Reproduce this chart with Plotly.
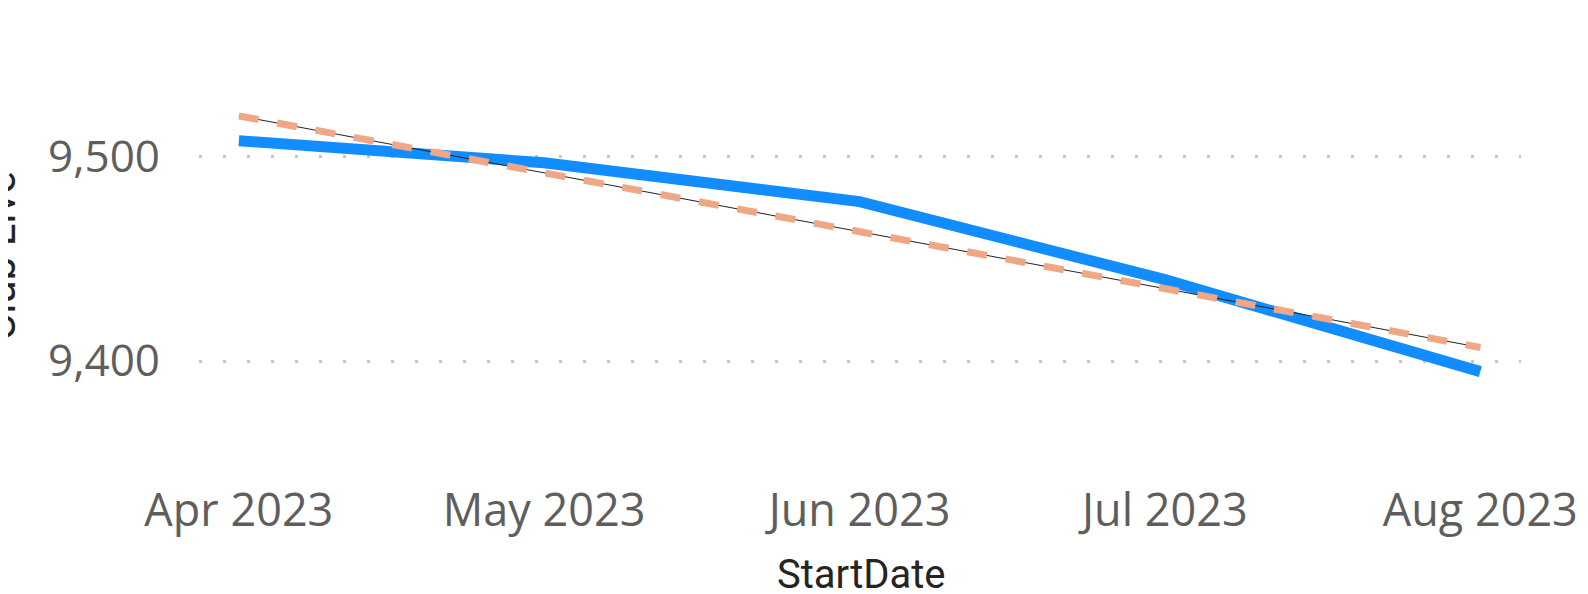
import numpy as np
import pandas as pd
import plotly.graph_objects as go

# Data
months = ["2023-04-01", "2023-05-01", "2023-06-01", "2023-07-01", "2023-08-01"]
club_live = [9507.8, 9497.0, 9478.0, 9439.8, 9394.8]
y_ticks = [9400, 9500]
x_title = "StartDate"
y_title = "Club Live"

dates = pd.to_datetime(months)
days = (dates - dates[0]).days.values.astype(float)
slope, intercept = np.polyfit(days, club_live, 1)
trend = intercept + slope * days

# page body has an 8px default margin; size figure so it fills the window
OFF = 8
W, H = 1588 - OFF, 594 - OFF
ml, mr, mt, mb = 199 - OFF, 67, 40 - OFF, 129
PW, PH = W - ml - mr, H - mt - mb

fig = go.Figure()
fig.add_trace(go.Scatter(x=dates, y=club_live, mode="lines",
                         line=dict(color="#118DFF", width=11),
                         hoverinfo="skip", showlegend=False))
fig.add_trace(go.Scatter(x=dates, y=trend, mode="lines",
                         line=dict(color="#222222", width=1),
                         hoverinfo="skip", showlegend=False))
fig.add_trace(go.Scatter(x=dates, y=trend, mode="lines",
                         line=dict(color="#EFA786", width=7, dash="20px,19px"),
                         hoverinfo="skip", showlegend=False))

fig.update_layout(
    width=W, height=H,
    margin=dict(l=ml, r=mr, t=mt, b=mb, pad=0),
    paper_bgcolor="white", plot_bgcolor="white",
    showlegend=False,
    font=dict(family="Segoe UI, Open Sans, sans-serif", color="#605E5C"),
)
fig.update_xaxes(
    type="date",
    range=["2023-03-28 02:00", "2023-08-05 00:00"],
    tickvals=dates, tickformat="%b %Y",
    showgrid=False, zeroline=False, showline=False, ticks="",
    tickfont=dict(size=45, color="#605E5C", family="Segoe UI, Open Sans, sans-serif"),
    ticklabelstandoff=15,
    automargin=False,
)
fig.update_yaxes(
    range=[9349.1, 9557.1],
    tickvals=y_ticks, tickformat=",",
    showgrid=True, gridcolor="#C8C6C4", gridwidth=3, griddash="3px,21px",
    zeroline=False, showline=False, ticks="",
    tickfont=dict(size=44, color="#605E5C", family="Segoe UI, Open Sans, sans-serif"),
    ticklabelstandoff=38,
    automargin=False,
)
fig.add_annotation(
    text=x_title, showarrow=False,
    xref="paper", yref="paper",
    x=(861 - OFF - ml) / PW, y=1 - (574 - OFF - mt) / PH,
    xanchor="center", yanchor="middle",
    font=dict(size=40, color="#252423", family="DIN, Roboto, sans-serif"),
)
fig.add_annotation(
    text=y_title, textangle=-90, showarrow=False,
    xref="paper", yref="paper",
    x=(-7 - ml) / PW, y=1 - (256 - OFF - mt) / PH,
    xanchor="center", yanchor="middle",
    font=dict(size=42, color="#252423", family="DIN, Roboto, sans-serif"),
)

fig.write_html("out.html")
